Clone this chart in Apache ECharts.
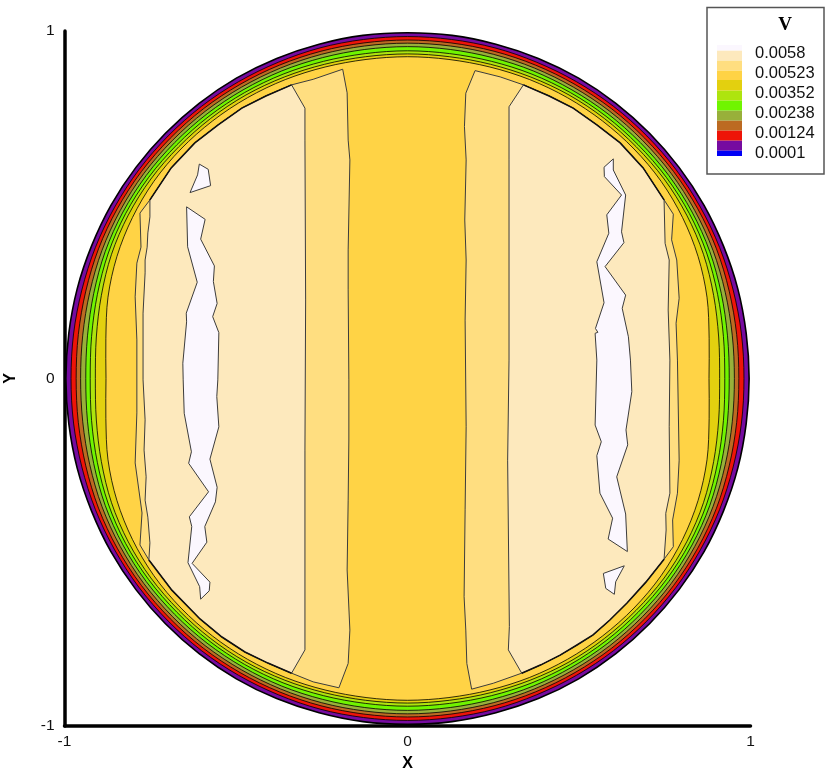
<!DOCTYPE html>
<html>
<head>
<meta charset="utf-8">
<title>V contour</title>
<style>
  html, body { margin: 0; padding: 0; background: #ffffff; }
  #dataChart { width: 826px; height: 775px; }
</style>
<script src="https://cdn.jsdelivr.net/npm/echarts@6/dist/echarts.min.js"></script>
</head>
<body>
<div id="dataChart"></div>
<script>
// axis ticks
const tickValues = [-1, 0, 1]

// legend
const legendColors = ['#fbf7fe', '#fde9bd', '#ffde80', '#ffd345', '#e3d00f', '#aee40e', '#70f500', '#98b03a', '#bc6a22', '#ee1408', '#760ba0', '#0000f5']
const legendLabels = ['0.0058', '0.00523', '0.00352', '0.00238', '0.00124', '0.0001']

// rim contours: radius read every 7.5 degrees from the x axis up to the y axis, the four quadrants match
const rimAngles = [0, 7.5, 15, 22.5, 30, 37.5, 45, 52.5, 60, 67.5, 75, 82.5, 90]
const rimOuter = [0.996, 0.996, 0.997, 0.997, 0.998, 0.998, 0.998, 0.998, 0.998, 0.997, 0.996, 0.996, 0.995]
const rimPurple = [0.981, 0.982, 0.983, 0.985, 0.986, 0.987, 0.987, 0.987, 0.986, 0.985, 0.985, 0.984, 0.984]
const rimRed = [0.966, 0.968, 0.971, 0.975, 0.977, 0.978, 0.978, 0.978, 0.977, 0.976, 0.975, 0.974, 0.974]
const rimBrown = [0.953, 0.955, 0.959, 0.964, 0.967, 0.969, 0.969, 0.969, 0.968, 0.967, 0.966, 0.965, 0.965]
const rimOlive = [0.938, 0.941, 0.947, 0.954, 0.958, 0.960, 0.960, 0.960, 0.959, 0.958, 0.956, 0.955, 0.955]
const rimGreen = [0.925, 0.929, 0.936, 0.944, 0.949, 0.951, 0.951, 0.951, 0.950, 0.948, 0.945, 0.943, 0.943]
const rimLime = [0.910, 0.915, 0.924, 0.934, 0.940, 0.943, 0.943, 0.943, 0.942, 0.939, 0.936, 0.934, 0.934]
const rimYellow = [0.879, 0.887, 0.904, 0.917, 0.926, 0.932, 0.934, 0.934, 0.933, 0.931, 0.928, 0.926, 0.926]

// the dark arcs where the palest zone meets the thin gold ring, [x, y]
const arcUpperLeft = [[-0.338, 0.845], [-0.413, 0.813], [-0.483, 0.778], [-0.552, 0.730], [-0.620, 0.678], [-0.689, 0.606], [-0.751, 0.514]]
const arcLowerLeft = [[-0.754, -0.522], [-0.687, -0.609], [-0.605, -0.692], [-0.541, -0.744], [-0.474, -0.787], [-0.407, -0.819], [-0.338, -0.848]]
const arcUpperRight = [[0.338, 0.845], [0.413, 0.813], [0.483, 0.778], [0.552, 0.730], [0.620, 0.678], [0.687, 0.606], [0.748, 0.514]]
const arcLowerRight = [[0.748, -0.520], [0.695, -0.586], [0.640, -0.646], [0.590, -0.695], [0.541, -0.738], [0.494, -0.767], [0.445, -0.796], [0.389, -0.824], [0.333, -0.848]]

// inner contours, [x, y]
const leftBand = [[-0.189, 0.890], [-0.275, 0.861], ...arcUpperLeft, [-0.780, 0.476], [-0.777, 0.378], [-0.789, 0.332], [-0.794, 0.235], [-0.789, 0.111], [-0.789, -0.099], [-0.794, -0.243], [-0.774, -0.387], [-0.780, -0.479], ...arcLowerLeft, [-0.275, -0.873], [-0.200, -0.890], [-0.173, -0.820], [-0.168, -0.724], [-0.176, -0.551], [-0.173, -0.350], [-0.171, -0.177], [-0.171, -0.004], [-0.173, 0.255], [-0.173, 0.370], [-0.168, 0.629], [-0.173, 0.686], [-0.176, 0.822]]
const leftCore = [...arcUpperLeft, [-0.751, 0.465], [-0.757, 0.419], [-0.759, 0.378], [-0.765, 0.341], [-0.765, 0.304], [-0.771, 0.188], [-0.771, -0.004], [-0.765, -0.119], [-0.768, -0.206], [-0.762, -0.283], [-0.765, -0.350], [-0.757, -0.399], [-0.751, -0.473], ...arcLowerLeft, [-0.299, -0.781], [-0.299, -0.206], [-0.297, 0.226], [-0.299, 0.686], [-0.299, 0.778]]
const rightBand = [[0.197, 0.886], [0.270, 0.868], ...arcUpperRight, [0.775, 0.473], [0.770, 0.399], [0.785, 0.341], [0.792, 0.231], [0.783, 0.159], [0.787, 0.053], [0.792, -0.235], [0.787, -0.330], [0.773, -0.407], [0.775, -0.484], ...arcLowerRight, [0.250, -0.877], [0.187, -0.894], [0.173, -0.820], [0.170, -0.724], [0.165, -0.628], [0.168, -0.378], [0.171, -0.139], [0.168, 0.168], [0.171, 0.341], [0.167, 0.456], [0.171, 0.629], [0.166, 0.725], [0.170, 0.821]]
const rightCore = [...arcUpperRight, [0.751, 0.389], [0.763, 0.341], [0.760, 0.197], [0.765, 0.053], [0.763, -0.139], [0.765, -0.330], [0.753, -0.388], [0.754, -0.436], ...arcLowerRight, [0.294, -0.781], [0.297, -0.714], [0.292, -0.235], [0.296, 0.053], [0.296, 0.629], [0.296, 0.782]]

// peak islands, [x, y]
const leftIslandTop = [[-0.607, 0.617], [-0.581, 0.602], [-0.574, 0.555], [-0.634, 0.535], [-0.612, 0.586]]
const leftIslandMain = [[-0.644, 0.494], [-0.590, 0.458], [-0.603, 0.401], [-0.563, 0.324], [-0.566, 0.279], [-0.555, 0.216], [-0.568, 0.178], [-0.550, 0.132], [-0.553, -0.004], [-0.556, -0.052], [-0.550, -0.139], [-0.576, -0.232], [-0.555, -0.313], [-0.560, -0.355], [-0.591, -0.426], [-0.585, -0.471], [-0.628, -0.532], [-0.576, -0.586], [-0.578, -0.611], [-0.603, -0.635], [-0.606, -0.599], [-0.640, -0.530], [-0.629, -0.426], [-0.636, -0.398], [-0.580, -0.326], [-0.638, -0.244], [-0.630, -0.211], [-0.651, -0.100], [-0.654, -0.004], [-0.655, 0.044], [-0.644, 0.163], [-0.645, 0.188], [-0.613, 0.277], [-0.641, 0.379]]
const rightIslandMain = [[0.600, 0.632], [0.573, 0.608], [0.574, 0.581], [0.624, 0.528], [0.581, 0.471], [0.587, 0.418], [0.552, 0.336], [0.573, 0.218], [0.548, 0.144], [0.555, 0.133], [0.547, 0.130], [0.552, 0.053], [0.547, -0.134], [0.565, -0.182], [0.552, -0.222], [0.561, -0.330], [0.598, -0.402], [0.585, -0.462], [0.641, -0.498], [0.636, -0.390], [0.610, -0.283], [0.642, -0.191], [0.637, -0.148], [0.654, -0.038], [0.650, 0.053], [0.644, 0.120], [0.626, 0.202], [0.636, 0.240], [0.576, 0.322], [0.631, 0.391], [0.624, 0.422], [0.636, 0.528], [0.600, 0.600]]
const rightIslandBottom = [[0.632, -0.539], [0.571, -0.561], [0.578, -0.604], [0.603, -0.621], [0.607, -0.585]]

function rimToPoints (radii) {
  const points = []
  const last = radii.length - 1
  for (let q = 0; q < 4; q++) {
    for (let i = 0; i < last; i++) {
      // odd quadrants run the list backwards
      const idx = q % 2 === 0 ? i : last - i
      const a = (90 * q + (q % 2 === 0 ? rimAngles[i] : 90 - rimAngles[idx])) * Math.PI / 180
      points.push([radii[idx] * Math.cos(a), radii[idx] * Math.sin(a)])
    }
  }
  return points
}

function contourSeries (points, fill, stroke, lineWidth, smooth) {
  return {
    type: 'custom',
    coordinateSystem: 'cartesian2d',
    silent: true,
    animation: false,
    clip: false,
    encode: { x: 0, y: 1 },
    data: points,
    renderItem (params, api) {
      if (params.dataIndex !== 0) return null
      return {
        type: 'polygon',
        shape: { points: points.map(p => api.coord(p)), smooth: smooth || 0 },
        style: { fill, stroke, lineWidth }
      }
    }
  }
}

function arcSeries (points) {
  return {
    type: 'custom',
    coordinateSystem: 'cartesian2d',
    silent: true,
    animation: false,
    clip: false,
    encode: { x: 0, y: 1 },
    data: points,
    renderItem (params, api) {
      if (params.dataIndex !== 0) return null
      return {
        type: 'polyline',
        shape: { points: points.map(p => api.coord(p)) },
        style: { fill: null, stroke: '#111111', lineWidth: 1.6 }
      }
    }
  }
}

const lineDark = '#3c3c3c'
const ringLine = '#000000'
const series = [
  contourSeries(rimToPoints(rimOuter), legendColors[10], '#000000', 1.6, 0.33),
  contourSeries(rimToPoints(rimPurple), legendColors[9], ringLine, 0.8, 0.33),
  contourSeries(rimToPoints(rimRed), legendColors[8], ringLine, 0.8, 0.33),
  contourSeries(rimToPoints(rimBrown), legendColors[7], ringLine, 0.8, 0.33),
  contourSeries(rimToPoints(rimOlive), legendColors[6], ringLine, 0.8, 0.33),
  contourSeries(rimToPoints(rimGreen), legendColors[5], ringLine, 0.8, 0.33),
  contourSeries(rimToPoints(rimLime), legendColors[4], ringLine, 0.8, 0.33),
  contourSeries(rimToPoints(rimYellow), legendColors[3], ringLine, 0.8, 0.33),
  contourSeries(leftBand, legendColors[2], lineDark, 1),
  contourSeries(rightBand, legendColors[2], lineDark, 1),
  contourSeries(leftCore, legendColors[1], lineDark, 1),
  contourSeries(rightCore, legendColors[1], lineDark, 1),
  arcSeries(arcUpperLeft),
  arcSeries(arcLowerLeft),
  arcSeries(arcUpperRight),
  arcSeries(arcLowerRight),
  contourSeries(leftIslandTop, legendColors[0], lineDark, 1),
  contourSeries(leftIslandMain, legendColors[0], lineDark, 1),
  contourSeries(rightIslandMain, legendColors[0], lineDark, 1),
  contourSeries(rightIslandBottom, legendColors[0], lineDark, 1)
]

// legend box is plain graphic elements
const legendGraphic = [
  {
    type: 'rect',
    shape: { x: 707, y: 7.5, width: 117, height: 166.5 },
    style: { fill: '#ffffff', stroke: '#555555', lineWidth: 1.5 }
  },
  {
    type: 'text',
    x: 785,
    y: 25,
    style: { text: 'V', fill: '#000000', font: 'bold 19px "Liberation Serif"', align: 'center', verticalAlign: 'middle' }
  }
]
const swatchEdges = [45, 50.7, 60.7, 70.7, 80, 90.7, 100.7, 110.7, 120.7, 130.7, 140.7, 150.7, 156]
legendColors.forEach((color, i) => {
  legendGraphic.push({
    type: 'rect',
    shape: { x: 717, y: swatchEdges[i], width: 25, height: swatchEdges[i + 1] - swatchEdges[i] },
    style: { fill: color }
  })
})
legendLabels.forEach((label, i) => {
  legendGraphic.push({
    type: 'text',
    x: 755,
    y: 53.5 + 20 * i,
    style: { text: label, fill: '#111111', font: '16.5px "Liberation Sans"', align: 'left', verticalAlign: 'middle' }
  })
})

const axisCommon = {
  type: 'value',
  min: tickValues[0],
  max: tickValues[tickValues.length - 1],
  interval: 1,
  nameLocation: 'middle',
  nameTextStyle: { fontFamily: 'Liberation Sans', fontWeight: 'bold', fontSize: 16, color: '#000000' },
  axisLine: { show: true, onZero: false, lineStyle: { color: '#000000', width: 3.5 } },
  axisTick: { show: false },
  splitLine: { show: false }
}
const labelStyle = { fontFamily: 'Liberation Sans', fontSize: 15.5, color: '#111111' }

const option = {
  animation: false,
  backgroundColor: '#ffffff',
  grid: { left: 64.5, top: 31, width: 686, height: 695, outerBoundsMode: 'none' },
  xAxis: Object.assign({}, axisCommon, { name: 'X', nameGap: 30, axisLabel: Object.assign({ margin: 8 }, labelStyle) }),
  yAxis: Object.assign({}, axisCommon, { name: 'Y', nameGap: 46, axisLabel: Object.assign({ margin: 10 }, labelStyle) }),
  series,
  graphic: legendGraphic
}

const myChart = echarts.init(document.getElementById('dataChart'))
myChart.setOption(option)
</script>
</body>
</html>
